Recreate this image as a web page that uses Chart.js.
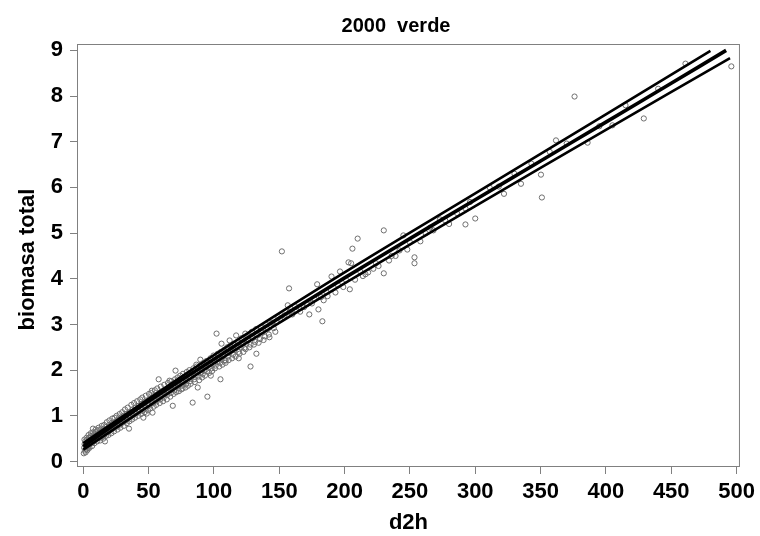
<!DOCTYPE html>
<html>
<head>
<meta charset="utf-8">
<script src="https://cdn.jsdelivr.net/npm/chart.js@4/dist/chart.umd.min.js"></script>
<style>
  html, body { margin: 0; padding: 0; background: #ffffff; }
  #wrap { width: 760px; height: 536px; }
</style>
</head>
<body>
<div id="wrap"><canvas id="c" width="760" height="536"></canvas></div>
<script>
// Labels
const chartTitle = '2000  verde';
const xTitle = 'd2h';
const yTitle = 'biomasa total';

// Tick values
const xTicks = [0, 50, 100, 150, 200, 250, 300, 350, 400, 450, 500];
const yTicks = [0, 1, 2, 3, 4, 5, 6, 7, 8, 9];

// Observations: d2h and total biomass
const d2h = [
  0.4, 0.7, 1.0, 1.3, 1.6, 2.0, 2.3, 2.7, 3.0, 3.4,
  3.8, 4.2, 4.6, 5.0, 5.5, 6.0, 6.5, 7.0, 7.4, 7.8,
  8.3, 8.8, 9.3, 9.8, 10.3, 10.9, 11.4, 12.0, 12.6, 13.2,
  13.8, 14.4, 15.0, 15.7, 16.3, 16.6, 17.0, 17.7, 18.4, 19.0,
  19.7, 20.4, 21.1, 21.8, 22.5, 23.2, 24.0, 24.5, 25.2, 25.9,
  26.6, 27.3, 28.0, 28.7, 29.4, 30.1, 30.8, 31.5, 32.2, 33.0,
  33.7, 34.4, 35.0, 35.6, 36.3, 37.0, 37.8, 38.5, 39.3, 40.0,
  40.8, 41.6, 42.4, 43.2, 44.0, 44.8, 45.6, 46.0, 46.5, 47.3,
  48.1, 48.6, 49.0, 49.9, 50.8, 51.7, 52.5, 52.6, 53.0, 53.5,
  54.4, 55.3, 56.2, 57.1, 57.7, 58.0, 58.9, 59.8, 60.7, 61.6,
  62.5, 63.4, 64.3, 65.2, 66.0, 66.1, 67.0, 67.9, 68.5, 68.8,
  69.7, 70.6, 70.7, 71.7, 72.7, 73.7, 74.7, 75.7, 76.0, 76.7,
  77.7, 78.7, 79.7, 80.7, 81.7, 82.7, 83.7, 83.8, 84.9, 86.0,
  86.5, 87.1, 87.6, 88.2, 89.3, 89.6, 90.4, 91.5, 92.6, 93.7,
  94.8, 95.0, 95.9, 97.0, 97.6, 98.1, 99.2, 100.3, 101.4, 102.0,
  102.5, 103.6, 104.7, 105.0, 105.8, 105.9, 107.1, 108.3, 109.0, 109.5,
  110.7, 112.0, 112.0, 113.3, 114.6, 116.0, 117.0, 117.4, 118.8, 119.0,
  120.3, 121.8, 123.3, 124.0, 124.8, 126.4, 128.0, 128.0, 129.7, 131.5,
  132.5, 133.3, 135.2, 137.1, 139.0, 141.2, 142.5, 143.5, 145.8, 148.2,
  0.9, 1.8, 2.5, 3.2, 4.0, 4.8, 5.8, 6.8, 7.6, 8.5,
  9.5, 10.6, 11.7, 12.9, 14.1, 15.3, 16.0, 17.3, 18.0, 19.3,
  20.0, 21.5, 22.2, 23.6, 25.5, 26.2, 27.8, 28.4, 29.8, 31.0,
  31.9, 33.3, 34.0, 35.3, 36.8, 37.4, 38.9, 39.6, 41.2, 42.0,
  43.6, 44.3, 45.2, 47.0, 47.8, 49.5, 50.3, 51.2, 52.1, 53.9,
  54.8, 55.8, 56.6, 58.5, 59.3, 61.1, 62.0, 63.9, 64.8, 66.6,
  67.4, 69.2, 70.2, 71.2, 72.2, 73.2, 74.2, 75.2, 76.3, 78.2,
  79.2, 80.2, 81.2, 82.2, 84.3, 85.4, 86.8, 88.7, 89.9, 91.0,
  92.0, 93.1, 94.2, 96.4, 97.3, 98.6, 99.7, 100.8, 102.9, 104.1,
  105.3, 106.5, 107.7, 108.9, 110.1, 111.3, 112.6, 113.9, 115.2, 116.6,
  118.1, 119.6, 121.1, 122.6, 124.3, 125.6, 127.2, 129.0, 130.6, 132.3,
  134.2, 136.1, 138.0, 140.1, 142.0, 144.6, 147.0, 149.3,
  150.5, 152.0, 154.0, 156.5, 157.5, 158.0, 160.0, 162.0, 163.0, 165.0,
  166.0, 169.0, 171.0, 173.0, 175.0, 177.0, 179.0, 180.0, 182.0, 183.0,
  184.0, 186.0, 187.0, 190.0, 193.0, 195.0, 196.5, 199.0, 201.0, 203.0,
  204.0, 205.0, 206.0, 208.0, 210.0, 212.0, 214.0, 216.0, 218.0, 222.0,
  224.0, 226.0, 230.0, 230.0, 234.0, 236.0, 239.0, 242.0, 245.0, 248.0,
  250.0, 253.5, 253.5, 258.0, 262.0, 265.5, 268.0, 273.0, 277.0, 280.0,
  286.0, 292.5, 292.5, 296.0, 300.0, 311.0, 318.0, 322.0, 330.0, 335.0,
  343.0, 350.3, 351.0, 357.0, 361.8, 370.0, 376.0, 386.0, 395.0, 405.0,
  415.0, 429.0, 440.0, 460.9, 496.0
];
const biomasa = [
  0.18, 0.30, 0.38, 0.24, 0.44, 0.33, 0.27, 0.40, 0.48, 0.35,
  0.30, 0.45, 0.52, 0.38, 0.47, 0.56, 0.42, 0.50, 0.72, 0.58,
  0.46, 0.55, 0.64, 0.50, 0.58, 0.68, 0.55, 0.62, 0.52, 0.70,
  0.60, 0.66, 0.56, 0.72, 0.62, 0.44, 0.68, 0.76, 0.64, 0.72,
  0.80, 0.68, 0.76, 0.84, 0.72, 0.80, 0.96, 0.86, 0.76, 0.84,
  0.92, 0.80, 0.88, 0.96, 0.84, 0.92, 1.00, 0.88, 0.96, 1.04,
  0.92, 1.00, 0.72, 1.08, 0.98, 1.06, 1.14, 1.02, 1.10, 1.18,
  1.06, 1.14, 1.22, 1.10, 1.18, 1.26, 1.14, 0.96, 1.22, 1.30,
  1.18, 1.05, 1.26, 1.34, 1.24, 1.32, 1.55, 1.40, 1.07, 1.28,
  1.36, 1.44, 1.32, 1.40, 1.80, 1.48, 1.36, 1.44, 1.52, 1.40,
  1.48, 1.56, 1.46, 1.54, 1.77, 1.62, 1.50, 1.58, 1.22, 1.66,
  1.56, 1.99, 1.64, 1.72, 1.60, 1.68, 1.76, 1.66, 1.60, 1.74,
  1.82, 1.70, 1.78, 1.86, 1.76, 1.84, 1.29, 1.92, 1.80, 1.88,
  2.12, 1.96, 1.62, 1.86, 1.94, 2.23, 2.02, 1.92, 2.00, 2.08,
  1.98, 1.42, 2.06, 2.14, 1.88, 2.04, 2.12, 2.20, 2.10, 2.80,
  2.18, 2.26, 2.16, 1.80, 2.58, 2.24, 2.32, 2.22, 2.21, 2.40,
  2.30, 2.65, 2.38, 2.46, 2.34, 2.44, 2.76, 2.52, 2.40, 2.26,
  2.50, 2.60, 2.48, 2.80, 2.58, 2.66, 2.08, 2.56, 2.70, 2.62,
  2.36, 2.76, 2.68, 2.82, 2.74, 2.90, 2.72, 2.98, 2.92, 3.06,
  0.48, 0.20, 0.52, 0.25, 0.58, 0.30, 0.62, 0.34, 0.64, 0.40,
  0.70, 0.44, 0.74, 0.46, 0.78, 0.50, 0.80, 0.56, 0.86, 0.58,
  0.90, 0.62, 0.94, 0.66, 1.00, 0.70, 1.04, 0.74, 1.08, 0.78,
  1.14, 0.84, 1.18, 0.88, 1.24, 0.92, 1.28, 0.96, 1.32, 1.00,
  1.36, 1.04, 1.40, 1.08, 1.44, 1.12, 1.48, 1.16, 1.50, 1.20,
  1.56, 1.24, 1.60, 1.28, 1.64, 1.32, 1.68, 1.36, 1.72, 1.42,
  1.76, 1.48, 1.80, 1.52, 1.84, 1.54, 1.88, 1.58, 1.92, 1.62,
  1.96, 1.66, 2.00, 1.70, 2.04, 1.74, 2.08, 1.78, 2.12, 1.84,
  2.16, 1.88, 2.20, 1.94, 2.26, 1.98, 2.32, 2.04, 2.36, 2.08,
  2.40, 2.12, 2.44, 2.16, 2.50, 2.22, 2.54, 2.26, 2.58, 2.30,
  2.62, 2.36, 2.70, 2.40, 2.46, 2.74, 2.50, 2.84, 2.56, 2.90,
  2.60, 2.94, 2.66, 3.00, 2.78, 3.04, 2.84, 3.16,
  3.12, 4.60, 3.20, 3.42, 3.79, 3.28, 3.22, 3.40, 3.32, 3.36,
  3.28, 3.38, 3.44, 3.22, 3.46, 3.56, 3.88, 3.33, 3.60, 3.07,
  3.53, 3.72, 3.62, 4.05, 3.70, 3.86, 4.16, 3.82, 3.98, 4.36,
  3.77, 4.34, 4.66, 3.98, 4.88, 4.16, 4.06, 4.10, 4.14, 4.22,
  4.34, 4.28, 5.06, 4.12, 4.40, 4.50, 4.50, 4.62, 4.95, 4.64,
  4.80, 4.47, 4.34, 4.82, 5.00, 5.12, 5.06, 5.30, 5.28, 5.20,
  5.44, 5.54, 5.19, 5.68, 5.32, 6.00, 6.02, 5.86, 6.30, 6.08,
  6.52, 6.28, 5.78, 6.78, 7.03, 6.96, 7.99, 6.98, 7.34, 7.36,
  7.80, 7.51, 8.16, 8.71, 8.65
];

// Fitted curve and its upper / lower limits
const fitX = [0, 25, 50, 100, 150, 200, 250, 300, 350, 400, 450, 492];
const fitY = [0.33, 0.83, 1.32, 2.24, 3.14, 4.02, 4.88, 5.73, 6.58, 7.43, 8.28, 9.00];
const upperX = [0, 100, 200, 300, 400, 480];
const upperY = [0.40, 2.33, 4.14, 5.87, 7.60, 8.99];
const lowerX = [0, 100, 200, 300, 400, 495];
const lowerY = [0.26, 2.15, 3.90, 5.59, 7.26, 8.83];

const toXY = (xs, ys) => xs.map((x, i) => ({ x: x, y: ys[i] }));

const FONT = "'Liberation Sans', Arial, Helvetica, sans-serif";

// Box around the plotting area plus the chart and axis titles
const decorations = {
  id: 'decorations',
  beforeDatasetsDraw(chart) {
    const { ctx, chartArea: a } = chart;
    ctx.save();
    ctx.strokeStyle = '#808080';
    ctx.lineWidth = 1;
    ctx.strokeRect(a.left + 0.5, a.top + 0.5, a.right - a.left - 1, a.bottom - a.top - 1);
    ctx.restore();
  },
  afterDraw(chart) {
    const { ctx, chartArea: a } = chart;
    ctx.save();
    ctx.fillStyle = '#000000';
    ctx.textAlign = 'center';
    ctx.textBaseline = 'middle';
    ctx.font = 'bold 20px ' + FONT;
    ctx.fillText(chartTitle, 396, 26);
    ctx.font = 'bold 22px ' + FONT;
    ctx.fillText(xTitle, (a.left + a.right) / 2, 523);
    ctx.translate(28, (a.top + a.bottom) / 2 + 4);
    ctx.rotate(-Math.PI / 2);
    ctx.fillText(yTitle, 0, 0);
    ctx.restore();
  }
};

const gridStyle = {
  display: true,
  drawOnChartArea: false,
  drawTicks: true,
  tickLength: 7,
  tickColor: '#808080',
  color: '#808080'
};

// Fitted lines are drawn above the observation markers
new Chart(document.getElementById('c'), {
  type: 'scatter',
  data: {
    datasets: [
      {
        label: 'observado',
        data: toXY(d2h, biomasa),
        order: 2,
        pointStyle: 'circle',
        pointRadius: 2.6,
        pointBorderWidth: 1,
        pointBorderColor: '#6e6e6e',
        pointBackgroundColor: 'rgba(0,0,0,0)'
      },
      {
        label: 'superior',
        data: toXY(upperX, upperY),
        order: 1,
        showLine: true,
        pointRadius: 0,
        borderColor: '#000000',
        borderWidth: 2.6,
        tension: 0.3
      },
      {
        label: 'ajuste',
        data: toXY(fitX, fitY),
        order: 1,
        showLine: true,
        pointRadius: 0,
        borderColor: '#000000',
        borderWidth: 3.6,
        tension: 0.3
      },
      {
        label: 'inferior',
        data: toXY(lowerX, lowerY),
        order: 1,
        showLine: true,
        pointRadius: 0,
        borderColor: '#000000',
        borderWidth: 2.6,
        tension: 0.3
      }
    ]
  },
  options: {
    responsive: false,
    animation: false,
    devicePixelRatio: 1,
    layout: { padding: { top: 44, right: 17, left: 0, bottom: 0 } },
    plugins: {
      legend: { display: false },
      title: { display: false },
      tooltip: { enabled: false }
    },
    scales: {
      x: {
        type: 'linear',
        min: -4.8,
        max: 502.6,
        grid: gridStyle,
        border: { display: false },
        afterBuildTicks: (s) => { s.ticks = xTicks.map(v => ({ value: v })); },
        afterFit: (s) => { s.height = 69; },
        ticks: {
          color: '#000000',
          font: { family: FONT, size: 22, weight: 'bold' },
          padding: 5,
          maxRotation: 0,
          autoSkip: false
        }
      },
      y: {
        type: 'linear',
        min: -0.12,
        max: 9.14,
        grid: gridStyle,
        border: { display: false },
        afterBuildTicks: (s) => { s.ticks = yTicks.map(v => ({ value: v })); },
        afterFit: (s) => { s.width = 77; },
        ticks: {
          color: '#000000',
          font: { family: FONT, size: 22, weight: 'bold' },
          padding: 7,
          autoSkip: false
        }
      }
    }
  },
  plugins: [decorations]
});
</script>
</body>
</html>
